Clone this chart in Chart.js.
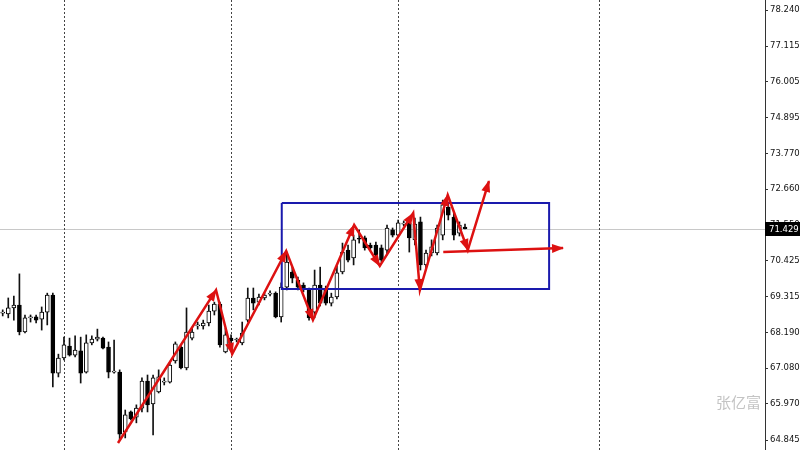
<!DOCTYPE html>
<html>
<head>
<meta charset="utf-8">
<script src="https://cdn.jsdelivr.net/npm/chart.js@4"></script>
<style>
html,body{margin:0;padding:0;background:#fff;}
#wrap{width:800px;height:450px;}
</style>
</head>
<body>
<div id="wrap"><canvas id="c" width="800" height="450"></canvas></div>
<script>
// ---- data ----
const opens  = [68.80,68.77,68.96,69.05,68.21,68.65,68.68,68.61,68.83,69.36,66.93,67.40,67.77,67.49,67.62,66.96,67.87,67.99,68.02,67.74,66.96,66.96,65.10,65.72,65.56,65.84,66.68,65.97,66.34,66.65,66.65,67.31,67.74,67.09,68.02,68.40,68.40,68.49,68.86,69.08,67.59,68.02,67.96,67.87,68.58,69.27,69.14,69.27,69.39,69.42,68.68,69.61,70.08,69.83,69.67,69.52,68.83,69.67,69.52,69.11,69.30,70.08,70.76,70.52,71.11,71.14,70.92,70.92,70.83,70.76,71.39,71.23,71.57,71.61,71.08,71.64,70.30,70.67,70.67,71.23,72.10,71.79,71.29,71.48];
const highs  = [68.90,69.27,69.33,70.02,68.74,68.74,68.74,68.99,69.42,69.42,67.52,68.05,68.02,68.09,68.05,68.12,68.09,68.30,68.05,67.90,67.96,67.03,65.78,65.75,65.94,66.78,66.87,66.87,67.03,66.78,67.28,67.90,67.81,68.96,68.33,68.52,68.58,69.05,69.14,69.14,68.33,68.12,68.02,68.52,69.58,69.58,69.39,69.42,69.49,69.46,69.74,70.70,70.23,69.92,69.74,69.58,70.14,70.23,69.64,69.42,70.27,70.98,70.92,71.23,71.39,71.20,70.98,71.01,70.92,71.54,71.45,71.70,71.67,71.76,71.76,71.79,70.76,71.08,71.54,72.32,72.23,71.92,71.64,71.57];
const lows   = [68.71,68.65,68.58,68.12,68.18,68.52,68.49,68.27,68.43,66.50,66.81,67.34,67.46,67.43,66.62,66.93,67.81,67.93,67.68,66.78,66.93,64.85,64.91,65.47,65.38,65.72,65.72,65.00,66.31,66.56,66.62,67.24,67.06,67.03,67.96,68.30,68.30,68.40,68.74,67.74,67.56,67.87,67.90,67.81,68.52,68.90,69.05,69.21,69.33,68.65,68.52,69.52,69.74,69.52,69.46,68.58,68.65,69.02,69.05,69.02,69.24,70.02,70.39,70.30,70.98,70.76,70.76,70.52,70.39,70.61,71.17,71.17,71.51,70.70,70.92,70.14,70.20,70.58,70.61,71.08,71.70,71.08,71.20,71.42];
const closes = [68.82,68.96,69.05,68.21,68.65,68.66,68.58,68.83,69.36,66.93,67.40,67.81,67.49,67.65,66.93,67.87,67.99,68.05,67.71,66.96,66.97,65.03,65.63,65.50,65.84,66.68,65.94,66.78,66.81,66.66,67.18,67.84,67.09,68.21,68.21,68.43,68.49,68.86,69.08,67.81,68.12,67.93,67.97,68.18,69.27,69.11,69.30,69.36,69.40,68.68,69.61,70.39,69.89,69.61,69.55,68.65,69.67,69.11,69.11,69.30,70.05,70.70,70.45,71.08,71.10,70.83,70.83,70.61,70.45,71.45,71.23,71.61,71.58,71.14,71.57,70.30,70.67,70.86,71.45,72.17,71.85,71.23,71.54,71.429];
const lastPrice = 71.429;
const yTicks = [64.845,65.970,67.080,68.190,69.315,70.425,71.550,72.660,73.770,74.895,76.005,77.115,78.240];
const separators = [11, 41, 71, 107];
// annotation drawings (bar index, price)
const zigzagX = [20.7, 38.3, 41.2, 50.9, 55.7, 63.1, 67.7, 73.7, 74.9, 79.9, 83.5, 87.3];
const zigzagY = [64.752, 69.518, 67.524, 70.733, 68.583, 71.543, 70.266, 71.917, 69.518, 72.477, 70.764, 72.913];
const arrowX = [79.1, 100.6];
const arrowY = [70.702, 70.826];
const boxX = [50.1, 98.1, 98.1, 50.1, 50.1];
const boxY = [72.228, 72.228, 69.549, 69.549, 72.228];
const watermark = '张亿富';

// ---- build datasets ----
const idx = opens.map((_, i) => i);
const wickData = idx.map(i => ({x: i, y: [lows[i], highs[i]]}));
const bodyData = idx.map(i => ({x: i, y: [opens[i], closes[i]]}));
const bull = idx.map(i => closes[i] >= opens[i]);
const zig = zigzagX.map((x, i) => ({x, y: zigzagY[i]}));
const arr = arrowX.map((x, i) => ({x, y: arrowY[i]}));
const box = boxX.map((x, i) => ({x, y: boxY[i]}));

const RED = '#dd1111';
const BLUE = '#1a1aad';
const FONT = {family: 'DejaVu Sans', size: 8.5};

const bgPlugin = {
  id: 'bg',
  beforeDatasetsDraw(chart) {
    const {ctx, chartArea: a, scales} = chart;
    ctx.save();
    // price line
    const py = Math.round(scales.y.getPixelForValue(lastPrice)) + 0.5;
    ctx.strokeStyle = '#c8c8c8';
    ctx.lineWidth = 1;
    ctx.beginPath(); ctx.moveTo(a.left, py); ctx.lineTo(a.right, py); ctx.stroke();
    // separators
    ctx.strokeStyle = '#444';
    ctx.setLineDash([2, 2]);
    separators.forEach(s => {
      const x = Math.round(scales.x.getPixelForValue(s)) + 0.5;
      ctx.beginPath(); ctx.moveTo(x, a.top); ctx.lineTo(x, a.bottom); ctx.stroke();
    });
    ctx.restore();
  }
};

const arrowPlugin = {
  id: 'arrows',
  afterDatasetsDraw(chart) {
    const ctx = chart.ctx;
    chart.data.datasets.forEach((ds, di) => {
      if (!ds.arrowMode) return;
      const pts = chart.getDatasetMeta(di).data;
      ctx.save();
      ctx.fillStyle = ds.borderColor;
      for (let k = 1; k < pts.length; k++) {
        if (ds.arrowMode === 'end' && k !== pts.length - 1) continue;
        const a = pts[k - 1], b = pts[k];
        const ang = Math.atan2(b.y - a.y, b.x - a.x);
        const L = 11, W = 4.5;
        const c = Math.cos(ang), s = Math.sin(ang);
        ctx.beginPath();
        ctx.moveTo(b.x + c * 1, b.y + s * 1);
        ctx.lineTo(b.x - L * c + W * s, b.y - L * s - W * c);
        ctx.lineTo(b.x - L * c - W * s, b.y - L * s + W * c);
        ctx.closePath();
        ctx.fill();
      }
      ctx.restore();
    });
  }
};

const labelPlugin = {
  id: 'labels',
  afterDraw(chart) {
    const {ctx, chartArea: a, scales} = chart;
    ctx.save();
    const py = Math.round(scales.y.getPixelForValue(lastPrice));
    ctx.fillStyle = '#000';
    ctx.fillRect(a.right, py - 7, chart.width - a.right, 14);
    ctx.fillStyle = '#fff';
    ctx.font = '8.5px "DejaVu Sans"';
    ctx.textBaseline = 'middle';
    ctx.textAlign = 'left';
    ctx.fillText(lastPrice.toFixed(3), a.right + 4, py + 0.5);
    // watermark
    ctx.fillStyle = '#c4c4c4';
    ctx.font = '15px "Noto Sans CJK SC"';
    ctx.textAlign = 'right';
    ctx.fillText(watermark, a.right - 4, 402);
    ctx.restore();
  }
};

new Chart(document.getElementById('c'), {
  type: 'bar',
  data: {
    datasets: [
      {type: 'bar', data: wickData, grouped: false, barThickness: 1, backgroundColor: '#111', borderWidth: 0, order: 5},
      {type: 'bar', data: bodyData, grouped: false, barThickness: 4, minBarLength: 1,
        backgroundColor: idx.map(i => bull[i] ? '#fff' : '#000'),
        borderColor: '#000', borderWidth: 1, borderSkipped: false, order: 4},
      {type: 'line', data: box, borderColor: BLUE, borderWidth: 2, pointRadius: 0, tension: 0, fill: false, order: 3},
      {type: 'line', data: zig, borderColor: RED, borderWidth: 2.5, pointRadius: 0, tension: 0, fill: false, order: 2, arrowMode: 'all'},
      {type: 'line', data: arr, borderColor: RED, borderWidth: 2.5, pointRadius: 0, tension: 0, fill: false, order: 2, arrowMode: 'end'}
    ]
  },
  options: {
    responsive: false,
    animation: false,
    devicePixelRatio: 1,
    layout: {padding: 0},
    plugins: {legend: {display: false}, tooltip: {enabled: false}},
    scales: {
      x: {type: 'linear', display: false, offset: false, min: -0.485, max: 136.86, grid: {offset: false}},
      y: {
        position: 'right', min: 64.534, max: 78.552, beginAtZero: false,
        afterBuildTicks: s => { s.ticks = yTicks.map(v => ({value: v})); },
        afterFit: s => { s.width = 35; s.paddingTop = 0; s.paddingBottom = 0; },
        ticks: {callback: v => Number(v).toFixed(3), font: FONT, color: '#111', padding: 2, autoSkip: false},
        grid: {drawOnChartArea: false, drawTicks: true, tickLength: 3, color: '#333'},
        border: {display: true, color: '#333', width: 1}
      }
    }
  },
  plugins: [bgPlugin, arrowPlugin, labelPlugin]
});
</script>
</body>
</html>
